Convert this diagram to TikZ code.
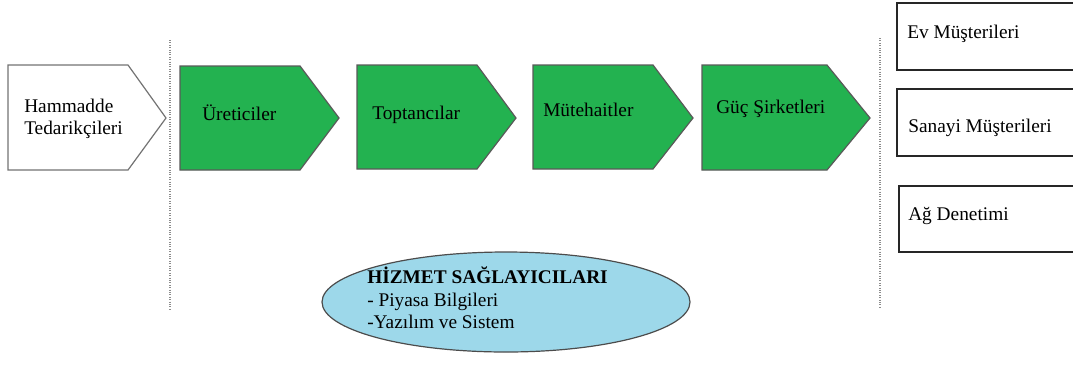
\documentclass[tikz,border=0pt]{standalone}
\usepackage{fontspec}
\setmainfont{Liberation Serif}
\definecolor{chevgreen}{RGB}{35,178,80}
\definecolor{ellblue}{RGB}{157,216,234}
\begin{document}
\begin{tikzpicture}[x=0.75pt,y=-0.75pt,
  lbl/.style={anchor=west,font=\fontsize{14.5}{17}\selectfont,inner sep=0pt,align=left},
  whitechev/.style={draw=black!55,line width=0.9pt,fill=white},
  greenchev/.style={draw=black!65,line width=0.9pt,fill=chevgreen},
  custbox/.style={draw=black!85,line width=1.2pt,fill=white},
  sep/.style={draw=black!45,densely dotted,line width=0.8pt}]
\useasboundingbox (0,0) rectangle (1073,365);
% separators
\coordinate (s1t) at (170,40); \coordinate (s1b) at (170,310);
\coordinate (s2t) at (880,38); \coordinate (s2b) at (880,308);
\draw[sep] (s1t) -- (s1b);
\draw[sep] (s2t) -- (s2b);
% chevrons
\draw[whitechev] (8,65) -- (128,65) -- (166,118) -- (128,170) -- (8,170) -- cycle;
\draw[greenchev] (180,66) -- (300,66) -- (339,118) -- (300,170) -- (180,170) -- cycle;
\draw[greenchev] (357,65) -- (477,65) -- (516,118) -- (477,169) -- (357,169) -- cycle;
\draw[greenchev] (533,65) -- (653,65) -- (693,118) -- (653,169) -- (533,169) -- cycle;
\draw[greenchev] (702,65) -- (827,65) -- (870,118) -- (827,170) -- (702,170) -- cycle;
\node[lbl] (ham) at (24,119) {Hammadde\\Tedarikçileri};
\node[lbl] (ure) at (202,113) {Üreticiler};
\node[lbl] (top) at (372,115) {Toptancılar};
\node[lbl] (mut) at (543,110) {Mütehaitler};
\node[lbl] (guc) at (716,109) {Güç Şirketleri};
% customer boxes
\draw[custbox] (897,3) rectangle (1085,70);
\draw[custbox] (897,89) rectangle (1085,156);
\draw[custbox] (899,186) rectangle (1085,252);
\node[lbl] (ev) at (907,34) {Ev Müşterileri};
\node[lbl] (san) at (908,128) {Sanayi Müşterileri};
\node[lbl] (ag) at (908,216) {Ağ Denetimi};
% ellipse
\draw[draw=black!70,line width=0.9pt,fill=ellblue] (506,302) ellipse [x radius=184,y radius=50];
\node[lbl,font=\fontsize{14.5}{17}\selectfont] (hiz) at (367,298) {\textbf{HİZMET SAĞLAYICILARI}\\- Piyasa Bilgileri\\-Yazılım ve Sistem};
\end{tikzpicture}
\end{document}
